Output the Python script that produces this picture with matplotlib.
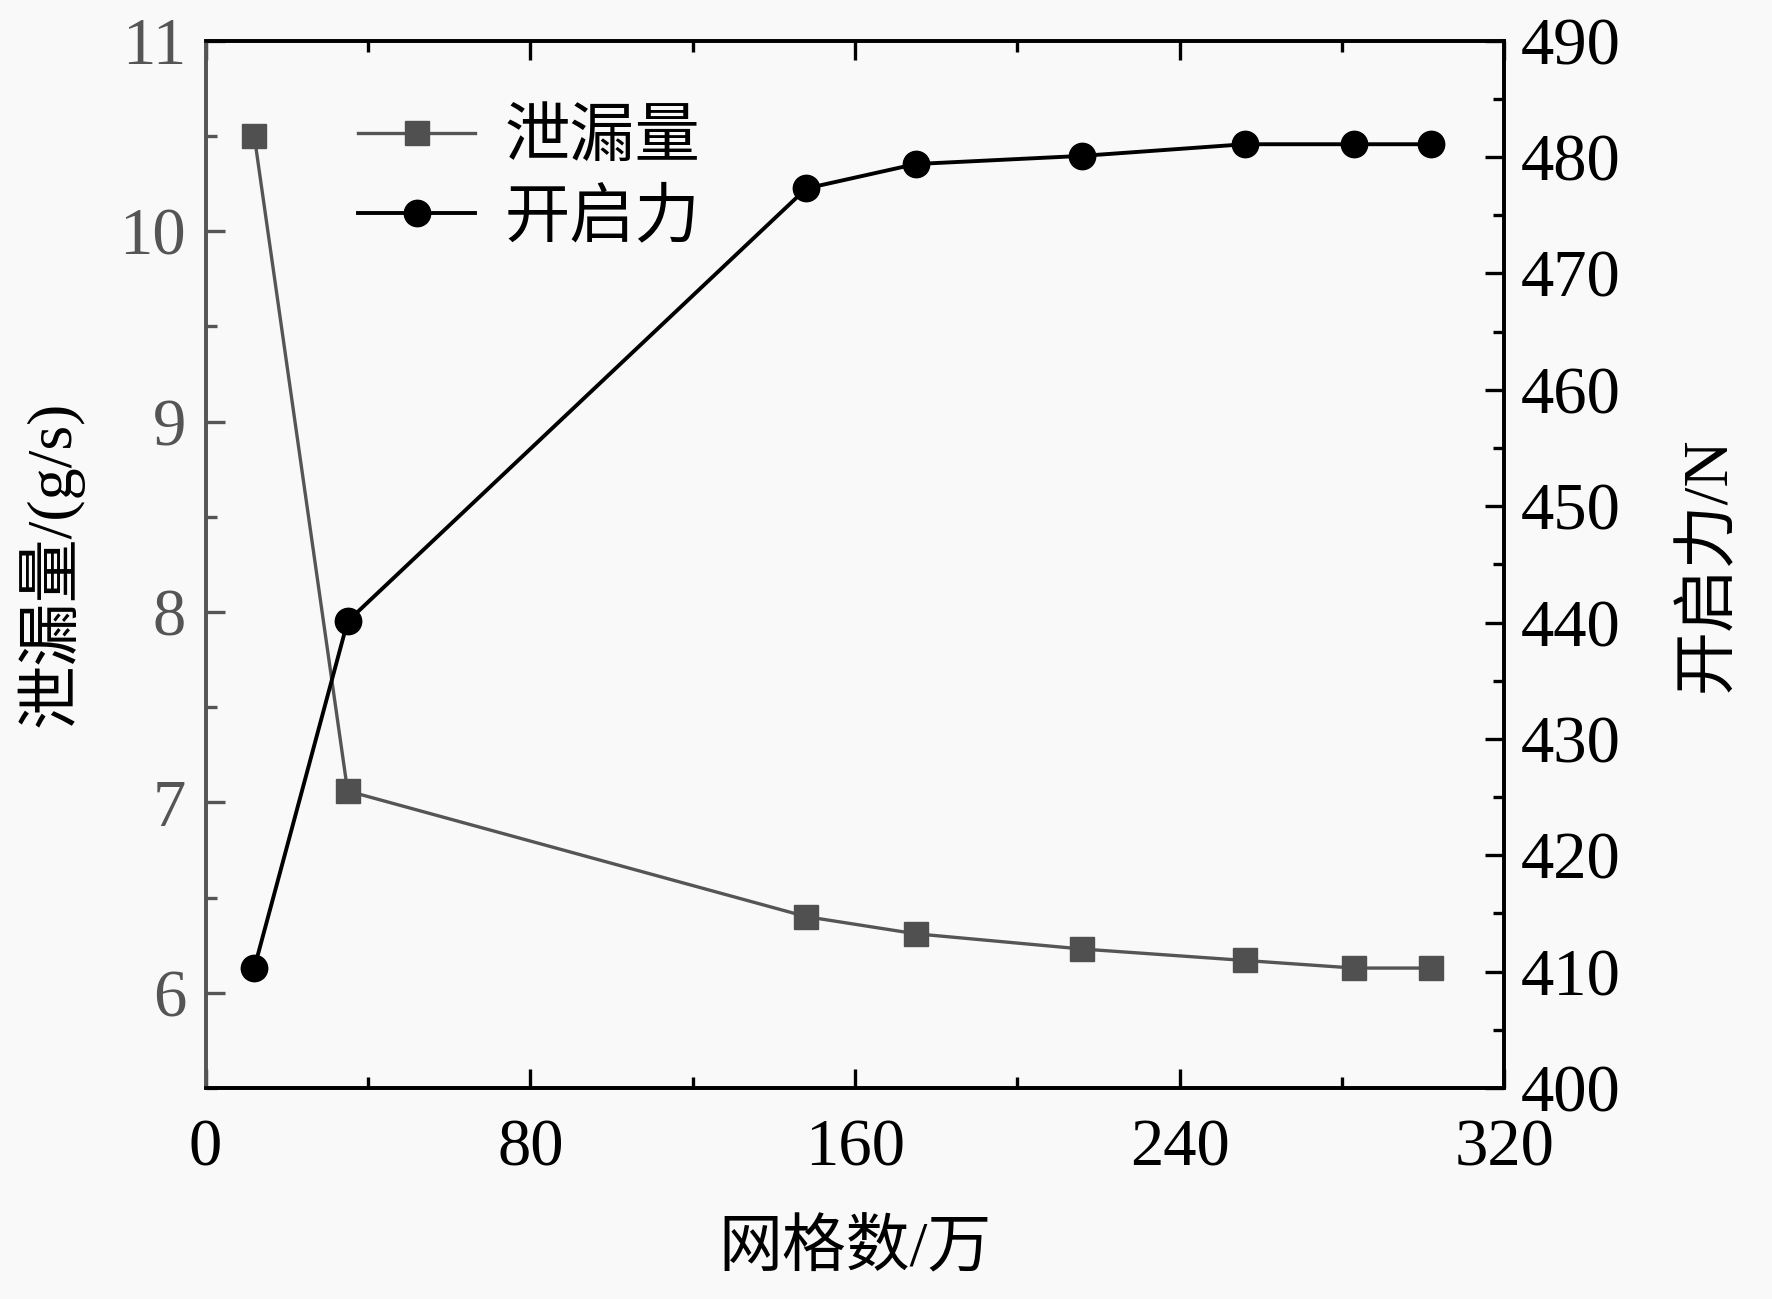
import matplotlib
matplotlib.use("Agg")
import matplotlib.pyplot as plt
from matplotlib.ticker import MultipleLocator

plt.rcParams['font.family'] = ['Liberation Serif', 'Noto Sans CJK SC', 'DejaVu Sans']
plt.rcParams['axes.unicode_minus'] = False

# data
mesh = [12, 35, 148, 175, 216, 256, 283, 302]  # 网格数/万
leakage = [10.50, 7.06, 6.40, 6.31, 6.23, 6.17, 6.13, 6.13]  # g/s
force = [410.3, 440.1, 477.3, 479.4, 480.1, 481.1, 481.1, 481.1]  # N

bg = '#f9f9f9'
gray = '#555555'

fig = plt.figure(figsize=(17.72, 12.99), dpi=100, facecolor=bg)
ax = fig.add_axes([0.116, 0.1624, 0.733, 0.8063], facecolor=bg)
ax2 = ax.twinx()

l1, = ax.plot(mesh, leakage, color=gray, lw=2.4, marker='s', ms=17,
              markerfacecolor='#505050', markeredgecolor='#505050', label='泄漏量', zorder=3)
l2, = ax2.plot(mesh, force, color='black', lw=2.8, marker='o', ms=19,
               markerfacecolor='black', markeredgecolor='black', label='开启力', zorder=3)

ax.set_xlim(0, 320)
ax.set_ylim(5.5, 11)
ax2.set_ylim(400, 490)

ax.xaxis.set_major_locator(MultipleLocator(80))
ax.xaxis.set_minor_locator(MultipleLocator(40))
ax.yaxis.set_major_locator(MultipleLocator(1))
ax.yaxis.set_minor_locator(MultipleLocator(0.5))
ax2.yaxis.set_major_locator(MultipleLocator(10))
ax2.yaxis.set_minor_locator(MultipleLocator(5))

for a in (ax, ax2):
    for s in a.spines.values():
        s.set_linewidth(2.6)
        s.set_color('black')
ax.spines['left'].set_color(gray)
ax2.spines['left'].set_color(gray)

ax.tick_params(axis='x', which='both', direction='in', top=True, labelsize=48, width=2.4, pad=22)
ax.tick_params(axis='x', which='major', length=14)
ax.tick_params(axis='x', which='minor', length=8)
ax.tick_params(axis='y', which='both', direction='in', labelsize=48, width=2.4, colors=gray, pad=14)
ax.tick_params(axis='y', which='major', length=14)
ax.tick_params(axis='y', which='minor', length=8)
ax2.tick_params(axis='y', which='both', direction='in', labelsize=48, width=2.4, pad=12)
ax2.tick_params(axis='y', which='major', length=14)
ax2.tick_params(axis='y', which='minor', length=8)

ax.set_xlabel('网格数/万', fontsize=46, labelpad=30)
ax.set_ylabel('泄漏量/(g/s)', fontsize=46, labelpad=26, color='black')
ax2.set_ylabel('开启力/N', fontsize=46, labelpad=42)

leg = ax.legend(handles=[l1, l2], loc='upper left', bbox_to_anchor=(0.072, 0.99),
                frameon=False, fontsize=47, handlelength=1.8, handletextpad=0.45,
                labelspacing=0.3)

fig.savefig('out.png', dpi=100, facecolor=bg)
